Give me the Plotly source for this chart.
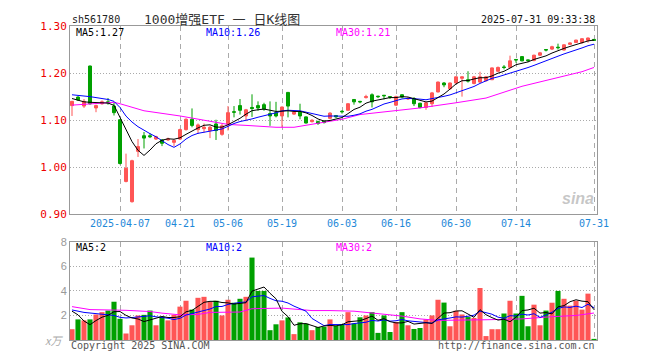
import plotly.graph_objects as go
import pandas as pd

# ---------------- data ----------------
holidays = ["2025-04-04", "2025-05-01", "2025-05-02", "2025-05-05", "2025-06-02"]
dates = [d.strftime("%Y-%m-%d") for d in pd.bdate_range("2025-03-25", "2025-07-31")
         if d.strftime("%Y-%m-%d") not in holidays]

open_ = [1.131, 1.149, 1.130, 1.215, 1.126, 1.135, 1.139, 1.130, 1.101, 0.970,
         0.927, 1.034, 1.067, 1.067, 1.060, 1.058, 1.058, 1.053, 1.060, 1.080,
         1.102, 1.080, 1.082, 1.078, 1.092, 1.070, 1.092, 1.118, 1.131, 1.109,
         1.127, 1.131, 1.133, 1.114, 1.116, 1.109, 1.159, 1.113, 1.117, 1.107,
         1.097, 1.097, 1.098, 1.104, 1.110, 1.119, 1.121, 1.144, 1.140, 1.148,
         1.154, 1.151, 1.153, 1.150, 1.132, 1.154, 1.145, 1.146, 1.136, 1.127,
         1.135, 1.160, 1.179, 1.167, 1.179, 1.189, 1.186, 1.178, 1.181, 1.184,
         1.186, 1.204, 1.213, 1.2125, 1.229, 1.235, 1.228, 1.227, 1.238, 1.250,
         1.251, 1.255, 1.249, 1.261, 1.265, 1.265, 1.2695, 1.2715]
high = [1.141, 1.151, 1.145, 1.216, 1.133, 1.142, 1.147, 1.137, 1.102, 1.029,
        1.016, 1.060, 1.075, 1.072, 1.067, 1.060, 1.063, 1.059, 1.082, 1.104,
        1.125, 1.093, 1.093, 1.088, 1.101, 1.092, 1.130, 1.130, 1.145, 1.124,
        1.155, 1.140, 1.137, 1.140, 1.139, 1.129, 1.160, 1.119, 1.135, 1.108,
        1.102, 1.099, 1.099, 1.117, 1.111, 1.121, 1.136, 1.145, 1.141, 1.154,
        1.157, 1.152, 1.153, 1.151, 1.152, 1.155, 1.149, 1.149, 1.137, 1.138,
        1.160, 1.182, 1.181, 1.180, 1.193, 1.193, 1.204, 1.194, 1.203, 1.194,
        1.212, 1.214, 1.217, 1.237, 1.229, 1.236, 1.229, 1.239, 1.245, 1.251,
        1.258, 1.2625, 1.261, 1.265, 1.271, 1.274, 1.2755, 1.272]
low = [1.109, 1.141, 1.126, 1.133, 1.117, 1.133, 1.133, 1.110, 1.006, 0.968,
       0.925, 1.022, 1.040, 1.062, 1.058, 1.045, 1.056, 1.045, 1.058, 1.078,
       1.085, 1.071, 1.074, 1.062, 1.058, 1.067, 1.078, 1.106, 1.112, 1.098,
       1.107, 1.120, 1.120, 1.088, 1.106, 1.085, 1.106, 1.111, 1.102, 1.093,
       1.095, 1.090, 1.093, 1.102, 1.105, 1.114, 1.120, 1.133, 1.136, 1.146,
       1.127, 1.147, 1.144, 1.145, 1.130, 1.147, 1.143, 1.130, 1.125, 1.122,
       1.128, 1.159, 1.170, 1.165, 1.178, 1.150, 1.180, 1.176, 1.179, 1.182,
       1.185, 1.202, 1.208, 1.211, 1.222, 1.225, 1.223, 1.225, 1.236, 1.246,
       1.249, 1.250, 1.248, 1.260, 1.264, 1.262, 1.2646, 1.269]
close = [1.140, 1.143, 1.140, 1.135, 1.131, 1.139, 1.137, 1.116, 1.008, 0.998,
         1.014, 1.044, 1.062, 1.065, 1.065, 1.051, 1.060, 1.057, 1.080, 1.102,
         1.089, 1.090, 1.085, 1.085, 1.078, 1.088, 1.116, 1.117, 1.121, 1.122,
         1.125, 1.126, 1.124, 1.109, 1.109, 1.128, 1.130, 1.117, 1.109, 1.094,
         1.100, 1.093, 1.095, 1.115, 1.107, 1.118, 1.135, 1.139, 1.139, 1.150,
         1.139, 1.150, 1.152, 1.149, 1.150, 1.149, 1.146, 1.135, 1.127, 1.137,
         1.158, 1.181, 1.175, 1.179, 1.192, 1.192, 1.183, 1.192, 1.192, 1.192,
         1.211, 1.212, 1.212, 1.226, 1.228, 1.226, 1.227, 1.238, 1.243, 1.249,
         1.256, 1.254, 1.260, 1.264, 1.270, 1.273, 1.2745, 1.2695]
volume = [0.88, 1.68, 1.60, 1.68, 2.08, 2.27, 2.40, 3.12, 1.73, 0.53,
          1.20, 2.00, 2.05, 2.40, 1.20, 1.92, 1.60, 2.05, 2.72, 3.20,
          2.48, 3.44, 3.52, 3.12, 3.20, 2.00, 3.28, 3.04, 3.36, 3.52,
          6.72, 4.00, 4.00, 0.80, 1.28, 1.60, 1.84, 0.48, 1.44, 1.33,
          0.80, 1.06, 1.08, 1.68, 1.15, 1.25, 2.27, 1.35, 1.85, 2.00,
          2.27, 0.58, 2.00, 0.65, 1.47, 2.27, 1.20, 0.90, 0.98, 1.68,
          2.00, 3.28, 3.05, 1.12, 2.38, 2.08, 1.87, 1.80, 4.24, 0.32,
          0.88, 0.88, 2.16, 3.20, 2.16, 3.60, 1.12, 2.88, 1.20, 2.40,
          3.04, 4.00, 3.36, 2.80, 3.20, 2.48, 3.78, 0.08]

ma5_head = [1.146, 1.142, 1.139, 1.138]
ma10_head = [1.154, 1.153, 1.152, 1.150, 1.148, 1.146, 1.144, 1.140, 1.127]
ma30_idx = [0, 3, 7, 8, 12, 18, 26, 29, 34, 37, 42, 45, 48, 53, 58, 64, 69, 75, 80, 85, 87]
ma30_val = [1.132, 1.135, 1.138, 1.135, 1.120, 1.109, 1.091, 1.089, 1.085, 1.085, 1.095,
            1.102, 1.112, 1.119, 1.126, 1.137, 1.147, 1.172, 1.188, 1.203, 1.212]
vma5_head = [2.35, 2.05, 1.55, 1.25]
vma10_head = [2.45, 2.32, 2.25, 2.20, 2.15, 2.13, 2.10, 2.00, 1.85]
vma30_idx = [0, 3, 9, 13, 15, 18, 21, 23, 28, 30, 35, 40, 43, 47, 51, 55, 58, 61, 69, 75, 80, 84, 87]
vma30_val = [2.72, 2.48, 2.42, 2.32, 2.19, 2.05, 2.08, 2.25, 2.28, 2.55, 2.60, 2.40, 2.40,
             2.35, 2.15, 1.95, 1.72, 1.60, 1.65, 1.72, 1.90, 2.00, 2.20]

tick_dates = ["2025-04-07", "2025-04-21", "2025-05-06", "2025-05-19", "2025-06-03",
              "2025-06-16", "2025-06-30", "2025-07-14", "2025-07-31"]
tick_text = ["2025-04-07", "04-21", "05-06", "05-19", "06-03", "06-16", "06-30", "07-14", "07-31"]
price_ticks = [0.90, 1.00, 1.10, 1.20, 1.30]
vol_ticks = [2, 4, 6, 8]

# ---------------- derived ----------------
def rolling_with_head(values, n, head):
    s = pd.Series(values).rolling(n).mean().tolist()
    s[:len(head)] = head
    return s

ma5 = rolling_with_head(close, 5, ma5_head)
ma10 = rolling_with_head(close, 10, ma10_head)
vma5 = rolling_with_head(volume, 5, vma5_head)
vma10 = rolling_with_head(volume, 10, vma10_head)

RED = "#ff5555"
GREEN = "#00a000"
vol_colors = [RED if c >= o else GREEN for o, c in zip(open_, close)]

MONO = "DejaVu Sans Mono"
GRID = "#aaaaaa"
BORDER = "#999999"

fig = go.Figure()
fig.add_trace(go.Candlestick(
    x=dates, open=open_, high=high, low=low, close=close,
    increasing=dict(line=dict(color=RED, width=1), fillcolor=RED),
    decreasing=dict(line=dict(color=GREEN, width=1), fillcolor=GREEN),
    whiskerwidth=0, showlegend=False, hoverinfo="skip", xaxis="x", yaxis="y"))
fig.add_trace(go.Scatter(x=[dates[i] for i in ma30_idx], y=ma30_val, mode="lines",
                         line=dict(color="#ff00ff", width=1), showlegend=False, hoverinfo="skip"))
fig.add_trace(go.Scatter(x=dates, y=ma10, mode="lines",
                         line=dict(color="#0000ff", width=1), showlegend=False, hoverinfo="skip"))
fig.add_trace(go.Scatter(x=dates, y=ma5, mode="lines",
                         line=dict(color="#000000", width=1), showlegend=False, hoverinfo="skip"))

fig.add_trace(go.Bar(x=dates, y=volume, marker=dict(color=vol_colors, line=dict(width=0)),
                     showlegend=False, hoverinfo="skip", xaxis="x2", yaxis="y2"))
fig.add_trace(go.Scatter(x=[dates[i] for i in vma30_idx], y=vma30_val, mode="lines",
                         line=dict(color="#ff00ff", width=1), showlegend=False, hoverinfo="skip",
                         xaxis="x2", yaxis="y2"))
fig.add_trace(go.Scatter(x=dates, y=vma10, mode="lines", line=dict(color="#0000ff", width=1),
                         showlegend=False, hoverinfo="skip", xaxis="x2", yaxis="y2"))
fig.add_trace(go.Scatter(x=dates, y=vma5, mode="lines", line=dict(color="#000000", width=1),
                         showlegend=False, hoverinfo="skip", xaxis="x2", yaxis="y2"))

xrange = [-1 / 3, len(dates) - 0.5]
common_x = dict(type="category", range=xrange, tickvals=tick_dates, ticktext=tick_text,
                showgrid=True, gridcolor=GRID, griddash="5px,4px", gridwidth=1,
                showline=True, mirror=True, linecolor=BORDER, linewidth=1, ticks="",
                zeroline=False, fixedrange=True)

# the page body has an 8px margin, so the figure is made 8px smaller and shifted accordingly
fig.update_layout(
    width=652, height=352,
    margin=dict(l=62, r=63, t=12, b=20),
    paper_bgcolor="white", plot_bgcolor="white",
    bargap=0.15, boxgap=0.28,
    xaxis=dict(**common_x, anchor="y", rangeslider=dict(visible=False),
               tickfont=dict(family=MONO, size=10, color="#1e88d8")),
    xaxis2=dict(**common_x, anchor="y2", matches="x", showticklabels=False),
    yaxis=dict(domain=[0.4, 1.0], range=[0.90, 1.30], tickvals=price_ticks,
               ticktext=[f"{v:.2f}" for v in price_ticks],
               tickfont=dict(family=MONO, size=11, color="#ee0000"),
               showgrid=True, gridcolor=GRID, griddash="1px,2px", showline=True, mirror=True,
               linecolor=BORDER, linewidth=1, ticks="", zeroline=False, fixedrange=True),
    yaxis2=dict(domain=[0.0, 0.3125], range=[0, 8], tickvals=vol_ticks,
                ticktext=[str(v) for v in vol_ticks],
                tickfont=dict(family="Liberation Sans", size=11, color="#999999"),
                showgrid=True, gridcolor=GRID, griddash="1px,2px", showline=True, mirror=True,
                linecolor=BORDER, linewidth=1, ticks="", zeroline=False, fixedrange=True),
)

# screen-pixel helpers (plot area spans x 70..597, y 20..340 on screen)
W, H = 527.0, 320.0
def px(x):
    return (x - 70) / W
def py(y):
    return (340 - y) / H

def label(text, x, y, color, anchor="left", size=10, family=MONO, **font_extra):
    fig.add_annotation(text=text, x=px(x), y=py(y), xref="paper", yref="paper",
                       xanchor=anchor, yanchor="middle", showarrow=False,
                       font=dict(family=family, size=size, color=color, **font_extra))

label("sh561780", 70, 13, "#222222")
label("1000增强ETF 一 日K线图", 222, 13, "#333333", anchor="center", size=13,
      family="DejaVu Sans Mono, Noto Sans CJK SC")
label("2025-07-31 09:33:38", 597, 13, "#111111", anchor="right")

label(f"MA5:{ma5[-1]:.2f}", 74, 27, "#000000")
label(f"MA10:{ma10[-1]:.2f}", 204, 27, "#0000ff")
label(f"MA30:{ma30_val[-1]:.2f}", 334, 27, "#ff00ff")
label(f"MA5:{int(vma5[-1])}", 74, 246, "#000000")
label(f"MA10:{int(vma10[-1])}", 204, 246, "#0000ff")
label(f"MA30:{int(vma30_val[-1])}", 334, 246, "#ff00ff")

label("x万", 65, 340, "#aaaaaa", anchor="right", size=11, family="Noto Sans CJK SC", style="italic")
label("Copyright 2025 SINA.COM", 69, 346, "#555555")
label("http://finance.sina.com.cn", 597, 346, "#555555", anchor="right")
label("sina", 596, 196, "rgba(150,150,150,0.55)", anchor="right", size=16,
      family="Liberation Sans", style="italic", weight="bold")

fig.write_html("out.html")
